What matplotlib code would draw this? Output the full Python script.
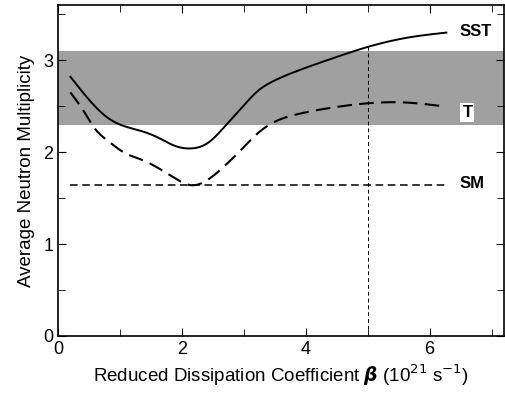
import numpy as np
import matplotlib.pyplot as plt
from matplotlib.ticker import MultipleLocator

plt.rcParams['font.family'] = ['Liberation Sans', 'DejaVu Sans']

sst_x = [0.2, 0.54, 0.81, 1.08, 1.34, 1.61, 1.88, 2.15, 2.42, 2.72, 2.99, 3.2, 3.47, 3.85, 4.39, 4.98, 5.6, 6.27]
sst_y = [2.82, 2.54, 2.37, 2.28, 2.23, 2.16, 2.07, 2.04, 2.10, 2.30, 2.50, 2.65, 2.77, 2.88, 3.01, 3.14, 3.24, 3.30]
t_x = [0.2, 0.43, 0.59, 0.81, 1.08, 1.34, 1.61, 1.88, 2.15, 2.42, 2.69, 2.95, 3.2, 3.47, 3.85, 4.39, 4.98, 5.6, 6.2]
t_y = [2.65, 2.43, 2.26, 2.12, 1.99, 1.92, 1.83, 1.72, 1.64, 1.70, 1.85, 2.02, 2.19, 2.32, 2.41, 2.48, 2.53, 2.54, 2.50]
sm_y = 1.64
sm_x = [0.2, 6.27]
band = [2.3, 3.1]
beta_mark = 5.0


def spline(x, y, n=400):
    # natural cubic spline through the read points
    x = np.asarray(x, float)
    y = np.asarray(y, float)
    N = len(x)
    h = np.diff(x)
    A = np.zeros((N, N))
    r = np.zeros(N)
    A[0, 0] = A[-1, -1] = 1
    for k in range(1, N - 1):
        A[k, k - 1] = h[k - 1]
        A[k, k] = 2 * (h[k - 1] + h[k])
        A[k, k + 1] = h[k]
        r[k] = 6 * ((y[k + 1] - y[k]) / h[k] - (y[k] - y[k - 1]) / h[k - 1])
    M = np.linalg.solve(A, r)
    xs = np.linspace(x[0], x[-1], n)
    i = np.clip(np.searchsorted(x, xs) - 1, 0, N - 2)
    a = x[i + 1] - xs
    b = xs - x[i]
    ys = (M[i] * a**3 + M[i + 1] * b**3) / (6 * h[i]) \
        + (y[i] / h[i] - M[i] * h[i] / 6) * a + (y[i + 1] / h[i] - M[i + 1] * h[i] / 6) * b
    return xs, ys


fig = plt.figure(figsize=(5.06, 3.93), dpi=100)
ax = fig.add_axes([58/506, 1 - 336/393, 446/506, 331/393])

ax.axhspan(band[0], band[1], color='#a0a0a0', lw=0, zorder=0)

ax.plot(*spline(sst_x, sst_y), color='black', lw=1.4)
ax.plot(*spline(t_x, t_y), color='black', lw=1.5, dashes=(7, 3.5))
ax.plot(sm_x, [sm_y, sm_y], color='black', lw=1.1, dashes=(5, 3))
sst_at5 = np.interp(beta_mark, sst_x, sst_y)
ax.plot([beta_mark, beta_mark], [0, sst_at5], color='black', lw=0.7, dashes=(4, 3))

ax.text(6.48, 3.31, 'SST', fontsize=12, fontweight='bold', va='center')
ax.text(6.53, 2.43, 'T', fontsize=12, fontweight='bold', va='center',
        bbox=dict(facecolor='white', edgecolor='none', pad=1.5))
ax.text(6.48, 1.66, 'SM', fontsize=12, fontweight='bold', va='center')

ax.set_xlim(0, 7.2)
ax.set_ylim(0, 3.6)
ax.xaxis.set_major_locator(MultipleLocator(2))
ax.xaxis.set_minor_locator(MultipleLocator(1))
ax.yaxis.set_major_locator(MultipleLocator(1))
ax.yaxis.set_minor_locator(MultipleLocator(0.5))
ax.tick_params(which='both', direction='in', top=True, right=True, labelsize=13)
ax.tick_params(which='major', length=6)
ax.tick_params(which='minor', length=5)
for s in ax.spines.values():
    s.set_linewidth(1.2)

ax.set_xlabel(r'Reduced Dissipation Coefficient $\boldsymbol{\beta}$ (10$^{21}$ s$^{-1}$)', fontsize=13.5, labelpad=3)
ax.set_ylabel('Average Neutron Multiplicity', fontsize=13.5, labelpad=6)

fig.savefig('out.png', dpi=100)
